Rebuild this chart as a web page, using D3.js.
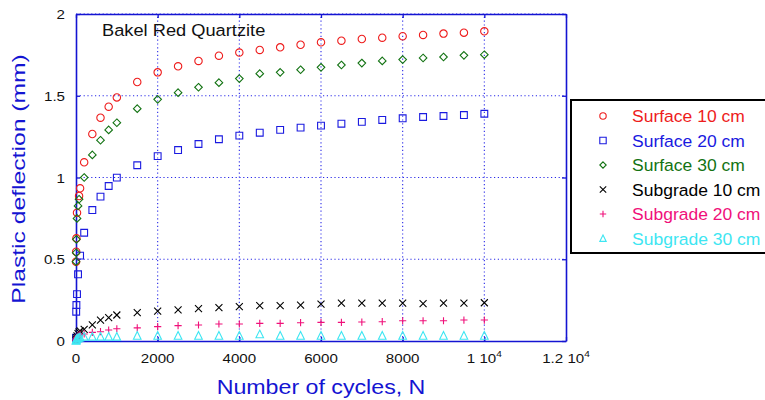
<!doctype html>
<html>
<head>
<script src="https://d3js.org/d3.v7.min.js"></script>
<style>
  body { margin: 0; background: #fff; }
  svg text { font-family: "Liberation Sans", Arial, sans-serif; }
</style>
</head>
<body>
<script>
// cycles shared by all series (null = no marker)
const cycles = [1, 5, 10, 25, 50, 75, 100, 200, 400, 600, 800, 1000, 1500, 2000, 2500, 3000,
  3500, 4000, 4500, 5000, 5500, 6000, 6500, 7000, 7500, 8000, 8500, 9000, 9500, 10000];

const surface10 = [0.485, 0.546, 0.628, 0.785, null, 0.887, 0.934, 1.093, 1.266, 1.366, 1.433, 1.490,
  1.584, 1.643, 1.680, 1.713, 1.745, 1.764, 1.780, 1.796, 1.812, 1.827, 1.837, 1.847, 1.855, 1.864, 1.872, 1.880, 1.886, 1.894];
const surface20 = [0.02, 0.179, 0.220, 0.287, 0.408, null, 0.522, 0.662, 0.801, 0.883, 0.948, 0.999,
  1.075, 1.131, 1.168, 1.205, 1.234, 1.256, 1.274, 1.291, 1.305, 1.317, 1.329, 1.340, 1.352, 1.362, 1.370, 1.376, 1.382, 1.390];
const surface30 = [0.485, 0.540, 0.622, 0.750, 0.826, 0.867, null, 1.000, 1.138, 1.228, 1.291, 1.335,
  1.421, 1.478, 1.519, 1.552, 1.580, 1.605, 1.635, 1.643, 1.659, 1.674, 1.688, 1.700, 1.713, 1.721, 1.731, 1.737, 1.747, 1.751];
const subgrade10 = [0.004, 0.012, 0.020, 0.032, 0.045, 0.055, 0.062, 0.071, 0.098, 0.128, 0.143, 0.159,
  0.173, 0.183, 0.190, 0.198, 0.204, 0.210, 0.216, 0.216, 0.220, 0.226, 0.231, 0.231, 0.231, 0.231, 0.228, 0.231, 0.231, 0.234];
const subgrade20 = [0.003, 0.008, 0.014, 0.022, 0.030, 0.036, 0.040, 0.043, 0.053, 0.057, 0.067, 0.075,
  0.080, 0.088, 0.094, 0.098, 0.104, 0.104, 0.108, 0.108, 0.112, 0.114, 0.114, 0.116, 0.118, 0.124, 0.124, 0.124, 0.128, 0.128];
const subgrade30 = [0.002, 0.005, 0.009, 0.013, 0.017, 0.020, 0.022, 0.026, 0.026, 0.026, 0.026, 0.026,
  0.032, 0.032, 0.032, 0.032, 0.032, 0.032, 0.041, 0.032, 0.032, 0.032, 0.032, 0.032, 0.032, 0.032, 0.032, 0.032, 0.032, 0.032];

const seriesNames = ["Surface 10 cm", "Surface 20 cm", "Surface 30 cm", "Subgrade 10 cm", "Subgrade 20 cm", "Subgrade 30 cm"];
const xTicks = [0, 2000, 4000, 6000, 8000, 10000, 12000];
const yTicks = [0, 0.5, 1, 1.5, 2];

const series = [
  { name: seriesNames[0], values: surface10, color: "#ee1c1c", shape: "circle" },
  { name: seriesNames[1], values: surface20, color: "#1a1ae0", shape: "square" },
  { name: seriesNames[2], values: surface30, color: "#137313", shape: "diamond" },
  { name: seriesNames[3], values: subgrade10, color: "#000000", shape: "times" },
  { name: seriesNames[4], values: subgrade20, color: "#f0107a", shape: "plus" },
  { name: seriesNames[5], values: subgrade30, color: "#3ee6f2", shape: "triangle" }
];

const width = 765, height = 400;
const stretch = 1.12; // text in the picture is a bit wide
const blue = "#1414d2";

const svg = d3.select("body").append("svg")
  .attr("width", width).attr("height", height);

const x = d3.scaleLinear().domain([0, 12000]).range([76, 566]);
const y = d3.scaleLinear().domain([0, 2]).range([341, 14]);

// marker shapes, r = half size
function shapePath(shape, r) {
  const p = d3.path();
  if (shape === "circle") { p.moveTo(r, 0); p.arc(0, 0, r, 0, 2 * Math.PI); }
  else if (shape === "square") { p.rect(-r, -r, 2 * r, 2 * r); }
  else if (shape === "diamond") { p.moveTo(0, -r); p.lineTo(r, 0); p.lineTo(0, r); p.lineTo(-r, 0); p.closePath(); }
  else if (shape === "times") { p.moveTo(-r, -r); p.lineTo(r, r); p.moveTo(-r, r); p.lineTo(r, -r); }
  else if (shape === "plus") { p.moveTo(-r, 0); p.lineTo(r, 0); p.moveTo(0, -r); p.lineTo(0, r); }
  else if (shape === "triangle") { p.moveTo(0, -r * 1.1); p.lineTo(r, r * 0.9); p.lineTo(-r, r * 0.9); p.closePath(); }
  return p.toString();
}
const markerSize = { circle: 3.7, square: 3.4, diamond: 3.8, times: 3.5, plus: 3.6, triangle: 3.8 };

// grid
const grid = svg.append("g")
  .attr("stroke", "#2a2ae8").attr("stroke-width", 1.1).attr("stroke-dasharray", "1.2,2.6");
grid.selectAll("line.v").data(xTicks.slice(1, -1)).enter().append("line")
  .attr("x1", d => x(d)).attr("x2", d => x(d)).attr("y1", y(0)).attr("y2", y(2));
grid.selectAll("line.h").data(yTicks.slice(1)).enter().append("line")
  .attr("x1", x(0)).attr("x2", x(12000)).attr("y1", d => y(d)).attr("y2", d => y(d));

// frame + ticks
svg.append("g").attr("transform", "translate(0," + y(0) + ")")
  .call(d3.axisBottom(x).tickValues(xTicks).tickSize(-4).tickSizeOuter(0).tickFormat(""));
svg.append("g").attr("transform", "translate(0," + y(2) + ")")
  .call(d3.axisTop(x).tickValues(xTicks).tickSize(-4).tickSizeOuter(0).tickFormat(""));
svg.append("g").attr("transform", "translate(" + x(0) + ",0)")
  .call(d3.axisLeft(y).tickValues(yTicks).tickSize(-4).tickSizeOuter(0).tickFormat(""));
svg.append("g").attr("transform", "translate(" + x(12000) + ",0)")
  .call(d3.axisRight(y).tickValues(yTicks).tickSize(-4).tickSizeOuter(0).tickFormat(""));
svg.selectAll(".domain, .tick line").attr("stroke", blue).attr("stroke-width", 1.3);
svg.selectAll(".domain").attr("stroke-width", 1.6);

// tick labels
xTicks.forEach(v => {
  const t = svg.append("text")
    .attr("transform", "translate(" + x(v) + "," + 363 + ") scale(" + stretch + ",1)")
    .attr("text-anchor", "middle").attr("font-size", 13.5).attr("fill", "#111");
  if (v >= 10000) {
    t.append("tspan").text((v / 10000) + " 10");
    t.append("tspan").attr("dy", -6).attr("font-size", 9).text("4");
  } else {
    t.text(v);
  }
});
yTicks.forEach(v => {
  svg.append("text")
    .attr("transform", "translate(" + 65 + "," + (y(v) + 5) + ") scale(" + stretch + ",1)")
    .attr("text-anchor", "end").attr("font-size", 13.5).attr("fill", "#111")
    .text(v);
});

// axis titles
svg.append("text")
  .attr("transform", "translate(" + 321 + "," + 394 + ") scale(1.16,1)")
  .attr("text-anchor", "middle").attr("font-size", 20).attr("fill", blue)
  .text("Number of cycles, N");
svg.append("text")
  .attr("transform", "translate(" + 25 + "," + 179 + ") rotate(-90) scale(1.3,1)")
  .attr("text-anchor", "middle").attr("font-size", 19).attr("fill", blue)
  .text("Plastic deflection (mm)");

// chart title
svg.append("text")
  .attr("transform", "translate(" + 102 + "," + 36 + ") scale(" + stretch + ",1)")
  .attr("font-size", 16.3).attr("fill", "#111")
  .text("Bakel Red Quartzite");

// data markers
series.forEach(s => {
  const pts = cycles.map((c, i) => [c, s.values[i]]).filter(d => d[1] != null);
  svg.append("g").selectAll("path").data(pts).enter().append("path")
    .attr("transform", d => "translate(" + x(d[0]) + "," + y(d[1]) + ")")
    .attr("d", shapePath(s.shape, markerSize[s.shape]))
    .attr("fill", "none").attr("stroke", s.color).attr("stroke-width", 1.1);
});

// legend
const legend = svg.append("g");
legend.append("rect")
  .attr("x", 571).attr("y", 100).attr("width", 220).attr("height", 153)
  .attr("fill", "#fff").attr("stroke", "#000").attr("stroke-width", 2);
series.forEach((s, i) => {
  const cy = 116 + i * 24.5;
  legend.append("path")
    .attr("transform", "translate(603," + cy + ")")
    .attr("d", shapePath(s.shape, 3.2))
    .attr("fill", "none").attr("stroke", s.color).attr("stroke-width", 1.1);
  legend.append("text")
    .attr("transform", "translate(632," + (cy + 6) + ") scale(1.03,1)")
    .attr("font-size", 17).attr("fill", s.color)
    .text(s.name);
});
</script>
</body>
</html>
